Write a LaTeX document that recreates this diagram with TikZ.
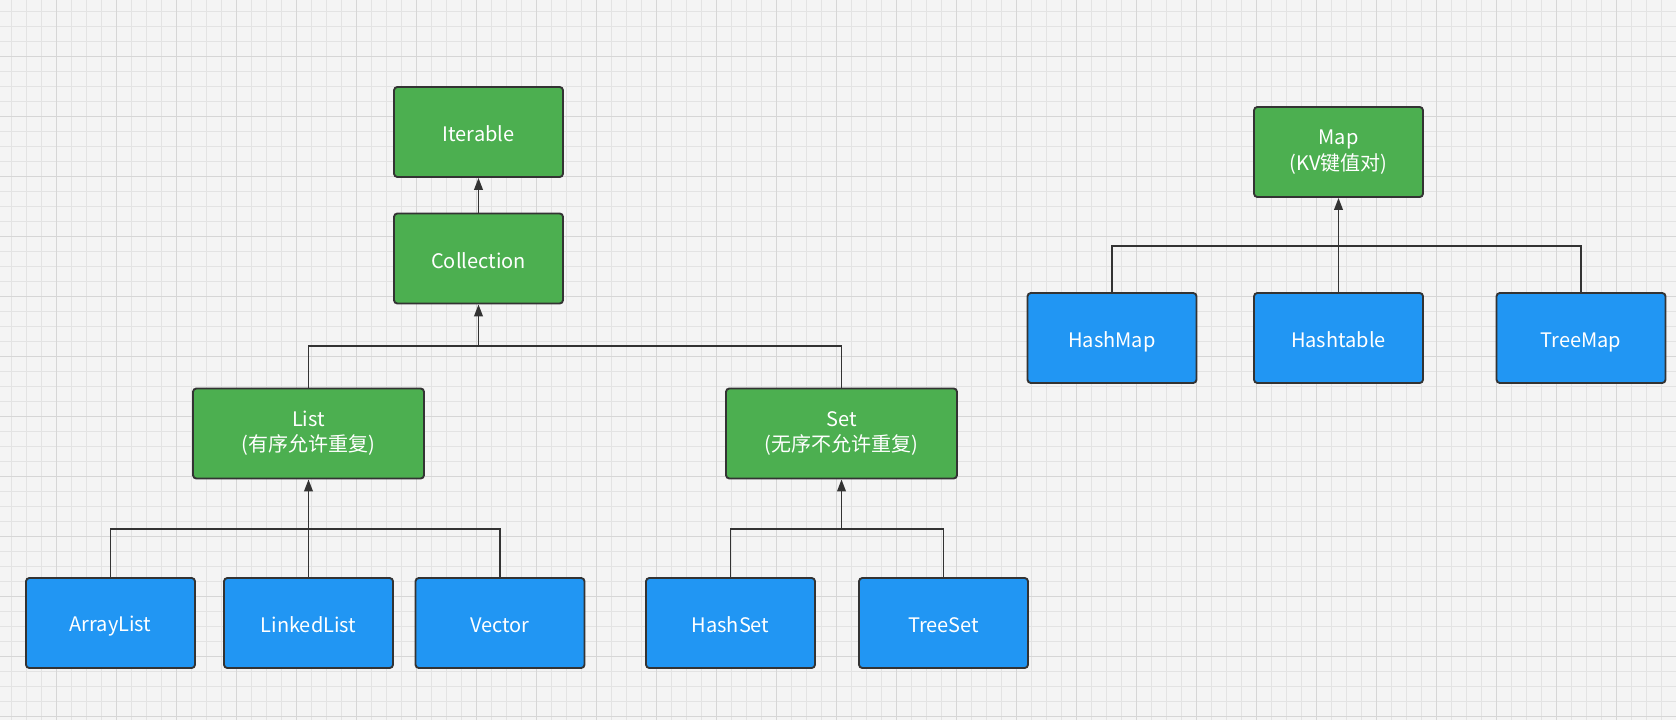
\documentclass[tikz,border=0pt]{standalone}
\usepackage{fontspec}
\setmainfont{Noto Sans CJK SC}
\usetikzlibrary{arrows.meta}
\definecolor{boxgreen}{HTML}{4CAF50}
\definecolor{boxblue}{HTML}{2196F3}
\definecolor{edge}{HTML}{333333}
\definecolor{paper}{HTML}{F4F4F4}
\definecolor{gridminor}{HTML}{E3E3E3}
\definecolor{gridmajor}{HTML}{D6D6D6}
\newcommand{\topstrut}{\rule{0pt}{17pt}}
\newcommand{\botstrut}{\rule[-2.5pt]{0pt}{2.5pt}}
\tikzset{
  box/.style={rectangle, rounded corners=2.5pt, draw=edge, line width=1.4pt,
    minimum width=126.75pt, minimum height=67.5pt, text=white,
    font=\fontsize{15pt}{19pt}\selectfont, align=center, inner sep=0pt,
    execute at begin node=\topstrut, execute at end node=\botstrut},
  gbox/.style={box, fill=boxgreen},
  bbox/.style={box, fill=boxblue},
  wide/.style={minimum width=173.25pt},
  link/.style={draw=edge, line width=1.3pt},
  up/.style={link, -{Triangle[width=6.5pt,length=9pt]}}
}
\begin{document}
\begin{tikzpicture}[x=0.75pt, y=-0.75pt]
  % paper and grid
  \fill[paper] (0,0) rectangle (1676,720);
  \useasboundingbox (0,0) rectangle (1676,720);
  \foreach \i in {0,...,111}
    \draw[gridminor, line width=0.7pt] ({11.7+15*\i},0) -- ++(0,720);
  \foreach \i in {0,...,47}
    \draw[gridminor, line width=0.7pt] (0,{11.7+15*\i}) -- ++(1676,0);
  \foreach \i in {0,...,27}
    \draw[gridmajor, line width=0.8pt] ({56.7+60*\i},0) -- ++(0,720);
  \foreach \i in {0,...,11}
    \draw[gridmajor, line width=0.8pt] (0,{56.7+60*\i}) -- ++(1676,0);

  % collection tree
  \node[gbox] (iterable) at (478.5,132) {Iterable};
  \node[gbox] (collection) at (478.5,258.5) {Collection};
  \node[gbox, wide] (list) at (308.5,433.5) {List\\(有序允许重复)};
  \node[gbox, wide] (set) at (841.5,433.5) {Set\\(无序不允许重复)};
  \node[bbox] (arraylist) at (110.5,623) {ArrayList};
  \node[bbox] (linkedlist) at (308.5,623) {LinkedList};
  \node[bbox] (vector) at (500,623) {Vector};
  \node[bbox] (hashset) at (730.5,623) {HashSet};
  \node[bbox] (treeset) at (943.5,623) {TreeSet};

  % map tree
  \node[gbox] (map) at (1338.5,152) {Map\\(KV键值对)};
  \node[bbox] (hashmap) at (1112,338) {HashMap};
  \node[bbox] (hashtable) at (1338.5,338) {Hashtable};
  \node[bbox] (treemap) at (1581,338) {TreeMap};

  \coordinate (collbar) at (478.5,346);
  \coordinate (listbar) at (308.5,529);
  \coordinate (setbar) at (841.5,529);
  \coordinate (mapbar) at (1338.5,246);

  \draw[up] (collection) -- (iterable);
  \draw[link] (list.north) |- (collbar) -| (set.north);
  \draw[up] (collbar) -- (collection.south);
  \draw[link] (arraylist.north) |- (listbar) -| (vector.north);
  \draw[up] (linkedlist.north) -- (list.south);
  \draw[link] (hashset.north) |- (setbar) -| (treeset.north);
  \draw[up] (setbar) -- (set.south);
  \draw[link] (hashmap.north) |- (mapbar) -| (treemap.north);
  \draw[up] (hashtable.north) -- (map.south);
\end{tikzpicture}
\end{document}
